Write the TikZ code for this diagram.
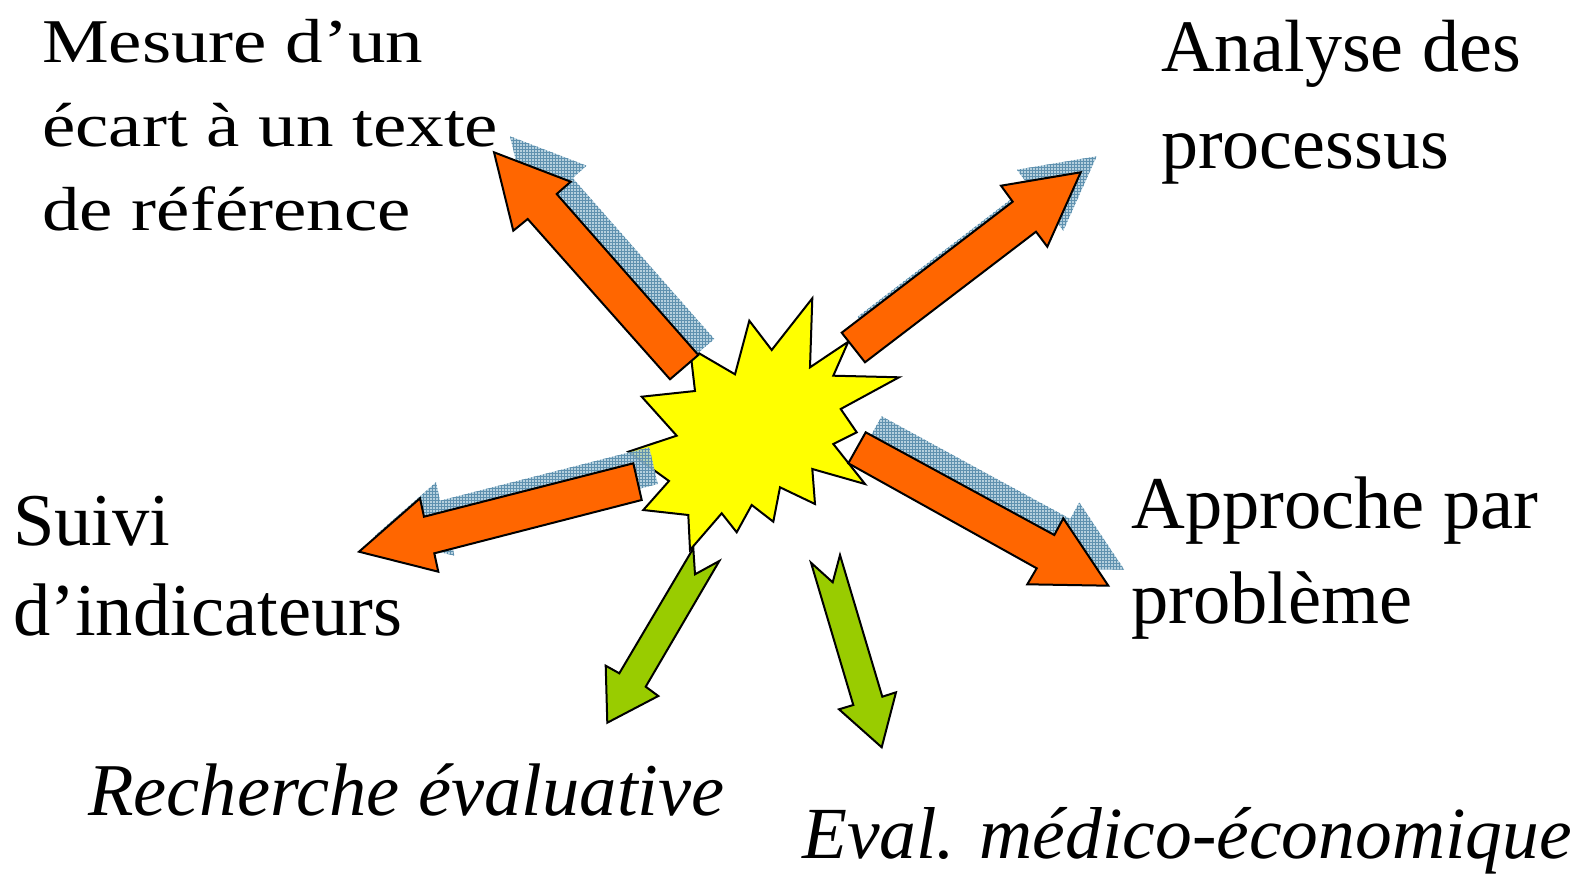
\documentclass[tikz,border=0pt]{standalone}
\usepackage{fontspec}
\setmainfont{Liberation Serif}
\usetikzlibrary{patterns}

\definecolor{flecheorange}{RGB}{255,102,0}
\definecolor{flecheverte}{RGB}{153,204,0}
\definecolor{etoilejaune}{RGB}{255,255,0}
\definecolor{ombrebleue}{RGB}{168,200,216}
\definecolor{grillebleue}{RGB}{95,145,175}

\tikzset{
  fleche/.style={draw=black, line width=2pt, line join=miter, fill=flecheorange},
  flecheverte/.style={fleche, fill=flecheverte},
  ombre/.style={shift={(16,-16)}, fill=ombrebleue, fill opacity=.85,
    postaction={pattern=grid, pattern color=grillebleue}},
  etoile/.style={draw=black, line width=2pt, line join=miter, fill=etoilejaune},
  texte/.style={anchor=base west, inner sep=0pt, align=left},
}

\newcommand{\flecheMesure}{(494,152.3) -- (513.3,230.7) -- (527.7,219) -- (670,379.3) -- (698.3,355) -- (556.7,194) -- (570.7,181.7) -- cycle}
\newcommand{\flecheAnalyse}{(841.7,332.7) -- (865,362.3) -- (1036,231.7) -- (1047.3,246.7) -- (1080.7,172.3) -- (1001,185.7) -- (1012.7,201.7) -- cycle}
\newcommand{\flecheSuivi}{(359,551.7) -- (420,498.3) -- (424,516.7) -- (633.3,463.3) -- (641.7,500) -- (434.3,553.3) -- (438.3,571.7) -- cycle}
\newcommand{\flecheApproche}{(865.7,432.3) -- (848.3,463.3) -- (1036.7,568.3) -- (1027.3,584.3) -- (1108.3,585.7) -- (1063.3,518.3) -- (1054.3,535) -- cycle}

\begin{document}
\begin{tikzpicture}[x=1pt, y=-1pt, font=\fontsize{74}{94}\selectfont]

  \useasboundingbox (0,0) rectangle (1582,875);

  % l'etoile
  \draw[etoile] (812.3,298.3) -- (810,367.3) -- (848.3,341.7) -- (833.3,375.7) -- (899,377.3) -- (840.7,409) -- (856.7,432.3) -- (833.3,444) -- (865,484) -- (812.3,469) -- (815,504) -- (780,487.3) -- (773.3,521.7) -- (751.7,505) -- (736.7,532.3) -- (721.7,513.3) -- (690,550) -- (688.3,515) -- (643.3,510) -- (669,481) -- (628.3,451.7) -- (676.7,435.7) -- (641.7,396.7) -- (695,391) -- (690,348) -- (735,374.3) -- (749.3,320.7) -- (771.7,350) -- cycle;

  % ombres
  \path[ombre] \flecheMesure;
  \path[ombre] \flecheAnalyse;
  \path[ombre] \flecheSuivi;
  \path[ombre] \flecheApproche;

  % fleches
  \draw[fleche] \flecheMesure;
  \draw[fleche] \flecheAnalyse;
  \draw[fleche] \flecheSuivi;
  \draw[fleche] \flecheApproche;
  \draw[flecheverte] (693.3,548.3) -- (695,574.3) -- (719.3,561) -- (645.7,686.7) -- (658.3,696) -- (607.3,722.7) -- (605.7,665.7) -- (619.3,673.3) -- cycle;
  \draw[flecheverte] (811,562.7) -- (832.7,582.3) -- (840,555) -- (882.3,696.7) -- (896,692.3) -- (881.7,747.3) -- (839,709.3) -- (853.3,705) -- cycle;

  % textes (ancre sur la derniere ligne)
  \node[texte, font=\fontsize{75}{101}\selectfont, yscale=.83, transform shape] (mesure) at (42,230) {Mesure d’un\\écart à un texte\\de référence};
  \node[texte, font=\fontsize{74}{97}\selectfont] (analyse) at (1161,168.3) {Analyse des\\processus};
  \node[texte, font=\fontsize{74.5}{90}\selectfont] (suivi) at (13,635) {Suivi\\d’indicateurs};
  \node[texte, font=\fontsize{74.5}{95}\selectfont] (approche) at (1131,623) {Approche par\\problème};
  \node[texte, font=\fontsize{74.5}{94}\selectfont\itshape] (recherche) at (88,815) {Recherche évaluative};
  \node[texte, font=\fontsize{73.5}{94}\selectfont\itshape] (eval) at (802,858) {Eval. médico-économique};

\end{tikzpicture}
\end{document}
